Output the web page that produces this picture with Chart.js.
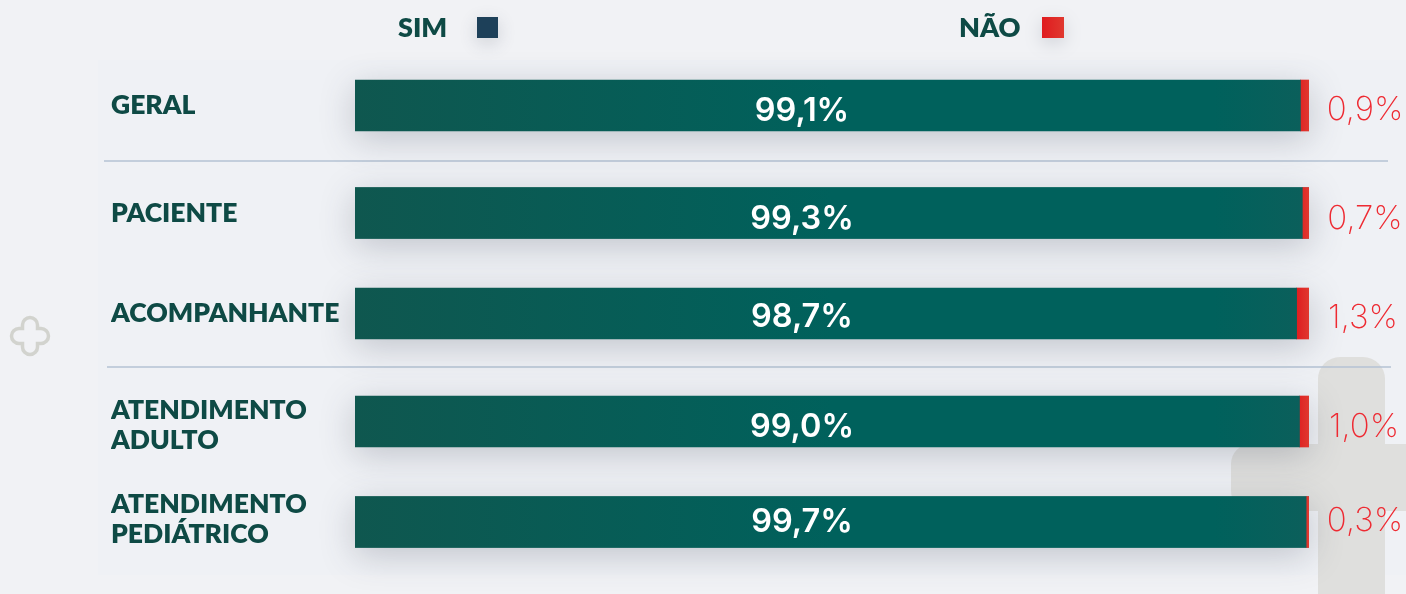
<!DOCTYPE html>
<html lang="pt"><head><meta charset="utf-8">
<style>html,body{margin:0;padding:0;background:#f1f2f5;overflow:hidden}#c{display:block}</style>
<script src="https://cdn.jsdelivr.net/npm/chart.js@4"></script>
</head><body>
<div style="width:1406px;height:594px;position:relative"><canvas id="c" width="1406" height="594"></canvas></div>
<script>
const categories = ['GERAL','PACIENTE','ACOMPANHANTE',['ATENDIMENTO','ADULTO'],['ATENDIMENTO','PEDIÁTRICO']];
const simValues = [99.1,99.3,98.7,99.0,99.7];
const naoValues = [0.9,0.7,1.3,1.0,0.3];
const seriesNames = ['SIM','NÃO'];

// layout only
const rowCenters = [105.5,213,313.5,421.5,522];
const tickNudge = [0,0,-0.5,4,-2.5];
const simLabelDy = [6.5,7.5,5,7,1.5];
const naoLabelDy = [5.5,7,5.5,7,0];
const naoLabelX = [1365,1365,1363,1364,1365];
const fmt = v => v.toFixed(1).replace('.',',') + '%';

class RowScale extends Chart.CategoryScale {
  getPixelForValue(value){
    const i = typeof value === 'number' ? value : this.parse(value);
    return rowCenters[i];
  }
  getPixelForTick(index){ return rowCenters[index] + tickNudge[index]; }
}
RowScale.id = 'rows';
RowScale.defaults = Chart.CategoryScale.defaults;
Chart.register(RowScale);

function rr(ctx,x,y,w,h,r){ctx.beginPath();ctx.roundRect(x,y,w,h,r);}
function crossPath(ctx,cx,cy,arm,half,r){
  ctx.beginPath();
  const a=arm,h=half;
  ctx.moveTo(cx-h+r,cy-a);
  ctx.lineTo(cx+h-r,cy-a);ctx.arcTo(cx+h,cy-a,cx+h,cy-a+r,r);
  ctx.lineTo(cx+h,cy-h);ctx.lineTo(cx+a-r,cy-h);ctx.arcTo(cx+a,cy-h,cx+a,cy-h+r,r);
  ctx.lineTo(cx+a,cy+h-r);ctx.arcTo(cx+a,cy+h,cx+a-r,cy+h,r);
  ctx.lineTo(cx+h,cy+h);ctx.lineTo(cx+h,cy+a-r);ctx.arcTo(cx+h,cy+a,cx+h-r,cy+a,r);
  ctx.lineTo(cx-h+r,cy+a);ctx.arcTo(cx-h,cy+a,cx-h,cy+a-r,r);
  ctx.lineTo(cx-a,cy+h);ctx.lineTo(cx-a,cy+h);
  ctx.lineTo(cx-a,cy-h+r);ctx.arcTo(cx-a,cy-h,cx-a+r,cy-h,r);
  ctx.lineTo(cx-h,cy-h);ctx.lineTo(cx-h,cy-a+r);ctx.arcTo(cx-h,cy-a,cx-h+r,cy-a,r);
  ctx.closePath();
}

const backdrop = {
  id:'backdrop',
  beforeDraw(chart){
    const c = chart.ctx; c.save();
    c.fillStyle='#f1f2f5'; c.fillRect(0,0,1406,594);
    c.fillStyle='#eff1f5'; c.fillRect(98,60,1308,515);
    c.fillStyle='#dfdfdd';
    rr(c,1318,357,67,270,22); c.fill();
    rr(c,1231,444,240,67,20); c.fill();
    c.beginPath();
    c.roundRect(23,317.5,14,37,7);
    c.roundRect(11.5,329,37,14,7);
    c.strokeStyle='#d2d3ce'; c.lineWidth=3.5;
    crossPath2(c,30,336);
    c.strokeStyle='#b4c2d3'; c.lineWidth=1.3;
    c.beginPath(); c.moveTo(104,161); c.lineTo(1388,161); c.stroke();
    c.beginPath(); c.moveTo(107,367); c.lineTo(1391,367); c.stroke();
    c.restore();
  },
  beforeDatasetsDraw(chart){
    const c = chart.ctx, m0 = chart.getDatasetMeta(0), m1 = chart.getDatasetMeta(1);
    c.save();
    c.shadowColor='rgba(60,70,90,0.26)'; c.shadowBlur=34; c.shadowOffsetX=0; c.shadowOffsetY=8;
    c.fillStyle='#0f574f';
    m0.data.forEach((b,i)=>{
      const e=m1.data[i];
      c.fillRect(b.base,b.y-b.height/2,e.x-b.base,b.height);
    });
    c.restore();
  },
  afterDatasetsDraw(chart){
    const c = chart.ctx, m0 = chart.getDatasetMeta(0), m1 = chart.getDatasetMeta(1);
    c.save();
    c.textAlign='center'; c.textBaseline='middle';
    c.font='600 32.5px Inter'; c.fillStyle='#ffffff';
    m0.data.forEach((b,i)=>{
      c.fillText(fmt(simValues[i]),802,b.y+simLabelDy[i]-1);
    });
    c.font='200 33px Inter'; c.fillStyle='#ee2a32';
    m1.data.forEach((b,i)=>{
      c.fillText(fmt(naoValues[i]),naoLabelX[i],b.y+naoLabelDy[i]-1);
    });
    c.textAlign='left'; c.textBaseline='middle';
    c.font='800 27px Lato'; c.fillStyle='#0e4a45';
    c.fillText(seriesNames[0],398,28);
    c.fillText(seriesNames[1],959,28);
    const sw=(x,w,fill)=>{
      c.save();
      c.shadowColor='rgba(60,70,90,0.2)'; c.shadowBlur=18; c.shadowOffsetY=5;
      c.fillStyle=fill; c.fillRect(x,17,w,21);
      c.restore();
    };
    sw(477,21,'#1d4059');
    const g=c.createLinearGradient(1042,0,1064,0);
    g.addColorStop(0,'#e01b1f'); g.addColorStop(1,'#e0382f');
    sw(1042,22,g);
    c.restore();
  }
};
function crossPath2(c,cx,cy){
  // plus outline: arm half-length 18.5, half-width 7.5, rounded tips
  const a=18.5,h=7.5,r=7.5;
  c.beginPath();
  c.moveTo(cx-h,cy-h);
  c.lineTo(cx-h,cy-a+r); c.arc(cx,cy-a+r,h,Math.PI,0);
  c.lineTo(cx+h,cy-h); c.lineTo(cx+a-r,cy-h);
  c.arc(cx+a-r,cy,h,-Math.PI/2,Math.PI/2);
  c.lineTo(cx+h,cy+h); c.lineTo(cx+h,cy+a-r);
  c.arc(cx,cy+a-r,h,0,Math.PI);
  c.lineTo(cx-h,cy+h); c.lineTo(cx-a+r,cy+h);
  c.arc(cx-a+r,cy,h,Math.PI/2,-Math.PI/2);
  c.closePath();
  c.stroke();
}

const ctx = document.getElementById('c').getContext('2d');
const simGrad = ctx.createLinearGradient(355,0,1309,0);
simGrad.addColorStop(0,'#0f574f'); simGrad.addColorStop(0.5,'#00615c');
simGrad.addColorStop(0.9,'#00615c'); simGrad.addColorStop(1,'#0c5f5b');
const naoGrad = ctx.createLinearGradient(1295,0,1309,0);
naoGrad.addColorStop(0,'#de1a1e'); naoGrad.addColorStop(1,'#e0382f');

new Chart(ctx,{
  type:'bar',
  data:{labels:categories,datasets:[
    {label:seriesNames[0],data:simValues,backgroundColor:simGrad,barThickness:51,borderWidth:0},
    {label:seriesNames[1],data:naoValues,backgroundColor:naoGrad,barThickness:51,borderWidth:0}
  ]},
  options:{
    indexAxis:'y',responsive:false,animation:false,
    layout:{padding:{left:111,right:97,top:60,bottom:19}},
    plugins:{legend:{display:false},tooltip:{enabled:false}},
    scales:{
      x:{type:'linear',stacked:true,min:0,max:100,display:false},
      y:{type:'rows',stacked:true,
        grid:{display:false},border:{display:false},
        afterFit(s){s.width=244;},
        ticks:{crossAlign:'far',autoSkip:false,padding:0,color:'#0e4a45',
          font:{family:'Lato',weight:'800',size:26.5,lineHeight:1.1}}
      }
    }
  },
  plugins:[backdrop]
});
</script>
</body></html>
